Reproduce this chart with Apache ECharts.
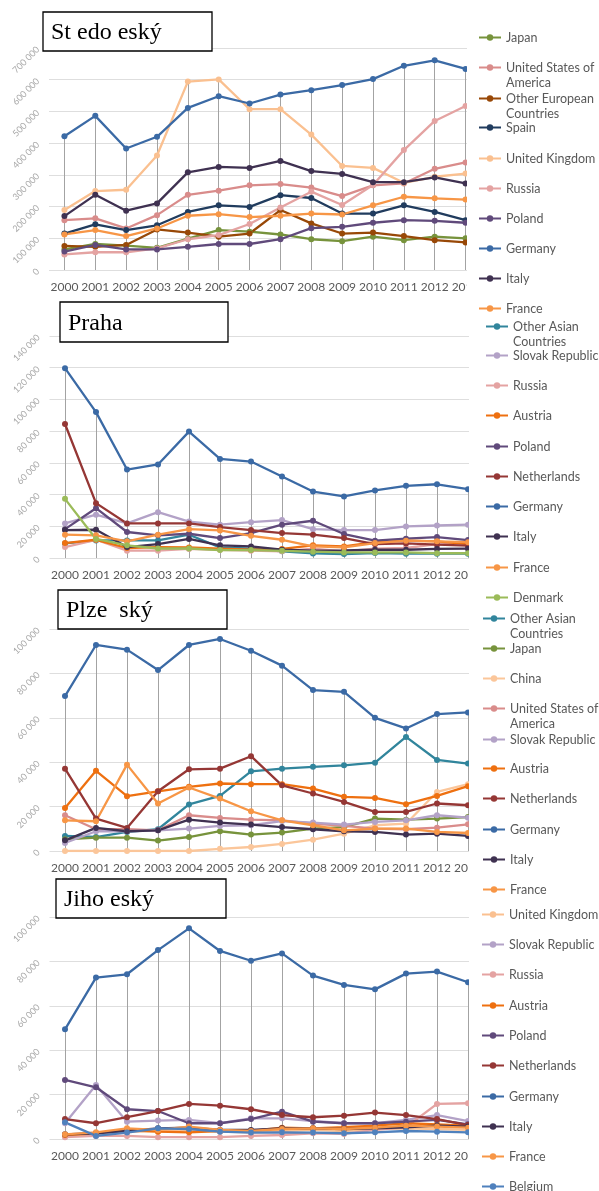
<!DOCTYPE html>
<html><head><meta charset="utf-8">
<script src="https://cdn.jsdelivr.net/npm/echarts@6/dist/echarts.min.js"></script>
<style>html,body{margin:0;padding:0;background:#fff}#c{width:599px;height:1191px}</style>
</head><body><div id="c"></div>
<script>
// ---------- DATA ----------
const years = ['2000','2001','2002','2003','2004','2005','2006','2007','2008','2009','2010','2011','2012','2013'];

// Panel 1: Středočeský
const p1Names = ['Japan','United States of America','Other European Countries','Spain','United Kingdom','Russia','Poland','Germany','Italy','France'];
const p1Japan = [65000,82000,77000,70000,99000,126000,121000,112000,97000,91000,105000,94000,105000,100000];
const p1USA = [157000,163000,131000,173000,237000,250000,267000,271000,260000,233000,267000,273000,319000,339000];
const p1OtherEur = [76000,73000,79000,128000,118000,105000,115000,189000,147000,115000,118000,107000,94000,87000];
const p1Spain = [115000,144000,126000,141000,183000,204000,199000,236000,227000,178000,178000,204000,183000,157000];
const p1UK = [189000,249000,253000,361000,594000,601000,507000,507000,427000,328000,322000,275000,294000,304000];
const p1Russia = [49000,56000,56000,68000,97000,110000,145000,197000,247000,205000,268000,378000,470000,517000];
const p1Poland = [58000,79000,65000,65000,73000,82000,82000,97000,132000,136000,149000,157000,155000,149000];
const p1Germany = [422000,486000,383000,420000,511000,548000,525000,553000,567000,583000,602000,644000,661000,634000];
const p1Italy = [170000,237000,187000,210000,308000,325000,322000,344000,312000,303000,277000,277000,292000,273000];
const p1France = [112000,126000,107000,131000,171000,176000,167000,171000,178000,175000,204000,231000,226000,222000];

// Panel 2: Praha
const p2Names = ['Other Asian Countries','Slovak Republic','Russia','Austria','Poland','Netherlands','Germany','Italy','France','Denmark'];
const p2OtherAsian = [9200,11100,11100,11100,14700,6700,5900,4200,2900,2500,3100,2700,2700,2700];
const p2Slovak = [21800,27300,21800,28900,23000,21000,22600,23900,18200,17600,17600,19900,20500,21000];
const p2Russia = [6900,11500,4600,4600,5700,5200,4600,4200,5900,4200,5900,6300,8800,10000];
const p2Austria = [9400,11500,6300,6900,6700,5900,5200,5700,8000,7300,10000,10900,10500,8800];
const p2Poland = [18200,31400,16400,14300,15300,12600,15700,21000,23500,15100,10900,12200,13200,11300];
const p2Netherlands = [84500,34600,21800,21800,21800,19500,17600,15700,14700,12600,8800,9200,8400,7800];
const p2Germany = [119700,92000,55800,59000,79700,62500,60800,51400,41900,38800,42600,45500,46500,43400];
const p2Italy = [17600,17800,6900,8800,12000,8000,7300,5200,4600,4800,5200,5200,5700,5900];
const p2France = [14700,14300,10500,14700,18200,17400,14000,11500,7300,6700,9400,10900,10500,10000];
const p2Denmark = [37300,12000,8000,6000,6000,5000,5000,4500,4000,3500,3500,3500,3000,3000];

// Panel 3: Plzeňský
const p3Names = ['Other Asian Countries','Japan','China','United States of America','Slovak Republic','Austria','Netherlands','Germany','Italy','France'];
const p3OtherAsian = [6800,6300,8600,9800,21000,24800,35900,37100,37900,38600,39800,51400,41000,39400];
const p3Japan = [5300,6000,6000,4700,6300,8900,7400,8300,10100,10800,14600,14100,14600,15300];
const p3China = [0,0,0,0,0,1000,1800,3200,5100,7800,11600,12300,26600,30100];
const p3USA = [16100,9800,9800,9300,16100,14900,14100,13800,12300,11300,10100,9800,10500,12000];
const p3Slovak = [3600,8900,8900,9300,10100,11300,11600,13500,12800,11900,13100,13800,16100,15000];
const p3Austria = [19400,36100,24700,26900,28900,30400,30100,30100,28100,24400,23900,21100,24800,29200];
const p3Netherlands = [37100,14600,10400,26900,36800,37100,42700,29600,25900,22100,17600,17600,21400,20600];
const p3Germany = [69800,92800,90700,81500,92800,95500,90200,83500,72500,71700,60000,55200,61700,62400];
const p3Italy = [4800,10400,8900,9300,14100,12800,11900,10800,9800,8900,8600,7400,7800,6800];
const p3France = [13800,13400,38900,21400,28600,23600,17900,13800,11600,9300,10100,10100,8600,8100];

// Panel 4: Jihočeský
const p4Names = ['United Kingdom','Slovak Republic','Russia','Austria','Poland','Netherlands','Germany','Italy','France','Belgium'];
const p4UK = [1500,2100,3300,3300,4100,3300,3000,3600,4100,3600,4500,4800,4500,4100];
const p4Slovak = [7100,24300,7800,8300,8600,7100,9300,9300,8100,7100,7100,8600,10800,8100];
const p4Russia = [800,1400,1400,800,800,800,1400,1800,2600,2300,4100,5300,15800,16100];
const p4Austria = [1800,2600,4100,3300,3000,3600,3600,5100,4800,5300,6000,7100,6600,6000];
const p4Poland = [26600,23300,13400,12600,7100,7100,9000,12300,7800,7100,7100,7800,8600,6600];
const p4Netherlands = [9000,7100,9800,12600,15800,15000,13400,10800,9800,10500,11900,10800,9000,6300];
const p4Germany = [49400,72700,74200,85100,94900,84700,80300,83600,73600,69400,67400,74500,75400,70600];
const p4Italy = [2100,2600,3600,4800,5100,4100,4100,4800,4800,4500,4800,5300,6000,5600];
const p4France = [2100,3000,4800,4100,5600,4100,3600,4500,4800,4500,5100,6000,5600,5100];
const p4Belgium = [7500,1400,2900,4800,4500,3300,2900,3000,2900,2600,3000,3600,3300,3000];

const panelTitles = ['St edo eský','Praha','Plze  ský','Jiho eský'];
const panelMax = [700000,140000,100000,100000];
const panelInterval = [100000,20000,20000,20000];

// ---------- STYLE / LAYOUT ----------
const colors = {
  'Japan':'#77933c','United States of America':'#d98c8b','Other European Countries':'#984807',
  'Spain':'#213c5e','United Kingdom':'#fac090','Russia':'#e4a3a2','Poland':'#604a7b',
  'Germany':'#3b6aa5','Italy':'#3f3151','France':'#f79646','Other Asian Countries':'#31859c',
  'Slovak Republic':'#b3a2c7','Austria':'#ee7010','Netherlands':'#953735','Denmark':'#9bbb59',
  'China':'#fbc69a','Belgium':'#4f81bd'
};
const wrapNames = {
  'United States of America':['United States of','America'],
  'Other European Countries':['Other European','Countries'],
  'Other Asian Countries':['Other Asian','Countries']
};
const layout = [
  {gridTop:48, gridLeft:49, gridWidth:432, legendX:478, maskX:467,
   legendY:[37,67,98,127,158,188,218,248,278,308], box:[43,12,169,39], textX:51, textY:33},
  {gridTop:336, gridLeft:49.5, gridWidth:434, legendX:485, maskX:469,
   legendY:[326,355,385,415,446,476,506,536,567,597], box:[60,302,168,40], textX:68, textY:324},
  {gridTop:629, gridLeft:49.5, gridWidth:434, legendX:482, maskX:469,
   legendY:[618,648,678,708,739,768,798,829,859,889], box:[58,590,169,39], textX:66, textY:611},
  {gridTop:917, gridLeft:49.5, gridWidth:434, legendX:481, maskX:469,
   legendY:[914,944,974,1005,1035,1065,1096,1126,1156,1186], box:[56,879,170,39], textX:64, textY:900}
];
const panelNames = [p1Names,p2Names,p3Names,p4Names];
const panelData = [
  [p1Japan,p1USA,p1OtherEur,p1Spain,p1UK,p1Russia,p1Poland,p1Germany,p1Italy,p1France],
  [p2OtherAsian,p2Slovak,p2Russia,p2Austria,p2Poland,p2Netherlands,p2Germany,p2Italy,p2France,p2Denmark],
  [p3OtherAsian,p3Japan,p3China,p3USA,p3Slovak,p3Austria,p3Netherlands,p3Germany,p3Italy,p3France],
  [p4UK,p4Slovak,p4Russia,p4Austria,p4Poland,p4Netherlands,p4Germany,p4Italy,p4France,p4Belgium]
];

const fmt = v => String(v).replace(/\B(?=(\d{3})+(?!\d))/g, ' ');
const GRID_H = 222;

const option = {animation:false, backgroundColor:'#fff', grid:[], xAxis:[], yAxis:[], series:[], legend:[], graphic:{elements:[]}};

panelNames.forEach((names, pi) => {
  const L = layout[pi];
  option.grid.push({left:L.gridLeft, top:L.gridTop, width:L.gridWidth, height:GRID_H});
  option.xAxis.push({type:'category', gridIndex:pi, data:years, boundaryGap:true,
    axisLine:{show:false}, axisTick:{show:false}, splitLine:{show:false},
    axisLabel:{color:'#595959', fontSize:12, fontFamily:'Lato', margin:11, interval:0}});
  option.yAxis.push({type:'value', gridIndex:pi, min:0, max:panelMax[pi], interval:panelInterval[pi],
    axisLine:{show:false}, axisTick:{show:false},
    axisLabel:{rotate:45, color:'#a9a9a9', fontSize:9, fontFamily:'Lato', margin:11, formatter:fmt},
    splitLine:{lineStyle:{color:'#dedede', width:1}}});
  const data = panelData[pi];
  const maxPerYear = years.map((y, i) => Math.max(...data.map(d => d[i])));
  names.forEach((n, si) => {
    const s = {type:'line', name:n, xAxisIndex:pi, yAxisIndex:pi, data:data[si],
      symbol:'circle', symbolSize:6, color:colors[n], lineStyle:{width:2.3}, z:2};
    if (si === 0) {
      s.markLine = {silent:true, symbol:['none','none'], z:1, label:{show:false},
        lineStyle:{color:'#a3a3a3', width:1, type:'solid'}, emphasis:{disabled:true},
        data: years.map((y, i) => [{coord:[i, maxPerYear[i]]}, {coord:[i, 0]}])};
    }
    option.series.push(s);
    option.legend.push({data:[n], orient:'vertical', left:L.legendX, top:L.legendY[si] - 7,
      padding:0, itemWidth:22, itemHeight:8, selectedMode:false, z:10,
      formatter: nm => wrapNames[nm] ? '{a|' + wrapNames[nm][0] + '}\n{b|' + wrapNames[nm][1] + '}' : nm,
      textStyle:{fontSize:12.5, fontFamily:'Lato', color:'#595959', lineHeight:15,
        rich:{a:{lineHeight:15}, b:{lineHeight:0, height:15, verticalAlign:'top'}}}});
  });
  // crop mask at the right edge of the plot (reference image is cut there)
  option.graphic.elements.push({type:'rect', z:5, silent:true,
    shape:{x:L.maskX, y:L.gridTop - 3, width:480 - L.maskX + 12, height:GRID_H + 30}, style:{fill:'#fff'}});
  // title box
  option.graphic.elements.push({type:'rect', z:6, silent:true,
    shape:{x:L.box[0], y:L.box[1], width:L.box[2], height:L.box[3]},
    style:{fill:'#fff', stroke:'#000', lineWidth:1.3}});
  option.graphic.elements.push({type:'text', z:7, silent:true, x:L.textX, y:L.textY,
    style:{text:panelTitles[pi], font:'24px "Liberation Serif"', fill:'#000', verticalAlign:'middle'}});
});

const chart = echarts.init(document.getElementById('c'), null, {renderer:'canvas'});
chart.setOption(option);
</script>
</body></html>
